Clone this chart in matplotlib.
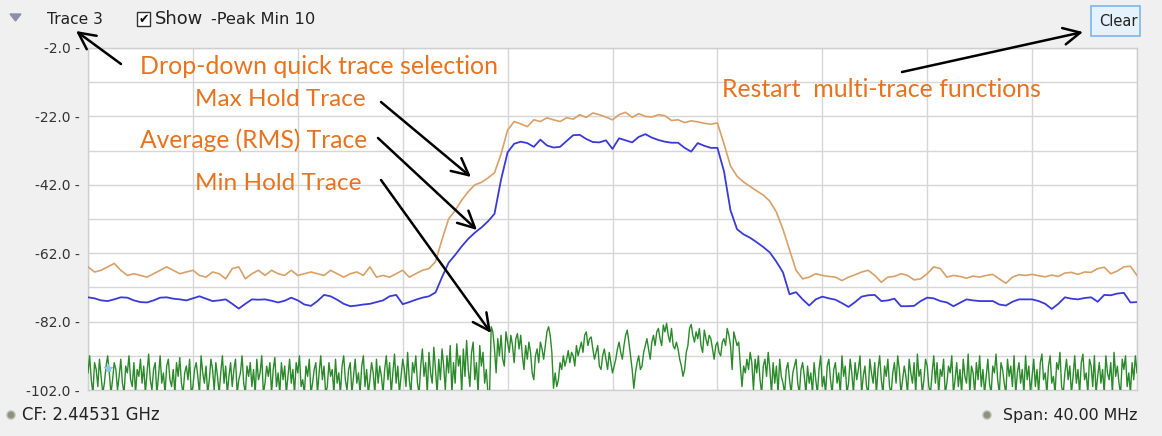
import numpy as np
import matplotlib
matplotlib.use("Agg")
import matplotlib.pyplot as plt
from matplotlib.patches import Rectangle, Ellipse, Polygon

# ---------------- data ----------------
cf_ghz = 2.44531
span_mhz = 40.0
y_min, y_max = -102.0, -2.0
y_label_ticks = [-102.0, -82.0, -62.0, -42.0, -22.0, -2.0]
y_grid_minor = [-92.0, -72.0, -52.0, -32.0, -12.0]

# Max hold trace (dBm), evenly spaced across the span
max_hold = [
    -66.0, -67.5, -67.0, -66.0, -65.0, -67.0, -68.5, -68.0, -68.5, -69.0,
    -68.0, -67.0, -66.0, -67.0, -68.0, -67.5, -67.0, -68.5, -69.0, -67.5,
    -68.0, -69.5, -66.5, -66.0, -69.5, -68.0, -67.0, -68.5, -67.0, -68.0,
    -68.5, -67.0, -68.5, -68.0, -67.5, -68.0, -68.5, -67.0, -68.0, -69.0,
    -68.0, -67.5, -68.5, -66.0, -69.0, -68.5, -69.0, -68.0, -67.0, -69.0,
    -68.0, -67.0, -66.5, -64.5, -58.0, -52.0, -49.5, -46.5, -44.0, -42.0,
    -41.3, -40.0, -38.5, -33.0, -26.0, -23.5, -24.2, -25.0, -23.0, -23.5,
    -22.4, -23.0, -23.5, -22.4, -22.8, -21.5, -22.3, -21.0, -21.5, -22.2,
    -23.0, -21.5, -20.8, -22.3, -21.2, -22.0, -22.2, -21.5, -21.8, -23.2,
    -23.0, -23.8, -23.3, -23.6, -24.0, -24.3, -23.9, -30.0, -36.5, -39.5,
    -41.2, -42.5, -43.8, -45.0, -46.8, -50.0, -55.0, -61.0, -67.0, -69.5,
    -69.0, -68.0, -68.5, -68.8, -69.0, -70.0, -69.0, -68.3, -67.5, -67.0,
    -68.5, -70.5, -69.0, -68.8, -68.0, -68.5, -69.8, -69.5, -68.0, -66.0,
    -66.5, -69.0, -68.5, -68.8, -69.3, -68.7, -69.0, -68.5, -68.2, -69.5,
    -70.8, -69.0, -68.3, -68.5, -68.2, -68.6, -68.9, -68.4, -68.8, -67.8,
    -67.6, -68.2, -67.5, -67.6, -66.5, -66.1, -68.0, -67.2, -66.0, -65.8,
    -68.5,
]

# Average (RMS) trace (dBm)
avg_rms = [
    -74.9, -75.2, -75.8, -76.0, -75.5, -74.9, -75.0, -75.8, -76.3, -76.4,
    -75.8, -75.0, -74.9, -75.3, -75.5, -75.8, -75.2, -74.6, -75.3, -76.0,
    -75.8, -75.5, -76.8, -78.2, -76.8, -75.5, -75.6, -75.5, -75.9, -76.4,
    -75.9, -75.0, -75.8, -77.0, -77.4, -76.0, -74.2, -74.6, -75.6, -76.8,
    -77.5, -77.3, -77.0, -76.8, -76.3, -75.8, -74.6, -74.2, -76.9, -76.3,
    -75.6, -75.0, -74.6, -73.5, -69.0, -64.8, -62.5, -60.0, -57.8, -56.0,
    -54.5, -52.7, -50.5, -40.5, -32.5, -30.0, -29.4, -29.8, -30.9, -28.8,
    -30.5, -31.1, -30.9, -29.2, -27.5, -27.4, -28.6, -29.5, -29.6, -29.0,
    -31.5, -28.4, -29.0, -29.6, -28.0, -27.2, -28.2, -28.9, -29.4, -29.7,
    -29.7, -31.2, -32.3, -29.8, -30.6, -31.2, -31.2, -38.0, -49.5, -55.0,
    -56.5, -57.5, -58.8, -60.2, -61.8, -64.5, -67.6, -74.0, -73.4, -75.5,
    -77.3, -75.5, -74.7, -75.2, -75.6, -76.6, -77.7, -76.3, -74.7, -74.3,
    -74.2, -76.0, -75.8, -75.3, -77.5, -77.5, -77.4, -76.0, -75.0, -75.2,
    -76.0, -76.4, -77.5, -76.5, -75.5, -75.8, -76.0, -76.0, -76.0, -77.0,
    -77.3, -76.2, -75.5, -75.5, -75.5, -76.0, -76.8, -78.3, -76.8, -74.9,
    -75.3, -75.5, -75.1, -74.9, -76.2, -74.2, -74.3, -73.8, -73.6, -76.4,
    -76.3,
]

# Min hold trace (dBm)
min_hold = [
    -97, -92, -99, -103, -94, -96, -101, -93, -98, -103, -100, -95, -92, -97, -103, -99, -94, -96, -102, -98,
    -93, -100, -103, -95, -97, -92, -99, -101, -94, -103, -96, -98, -93, -100, -95, -103, -97, -91.5, -99, -102,
    -96, -94, -103, -98, -92, -100, -97, -103, -95, -93, -99, -101, -96, -103, -94, -98, -92.5, -100, -103, -97,
    -95, -99, -93, -103, -101, -96, -94, -98, -103, -92, -97, -100, -95, -103, -99, -93, -96, -102, -94, -98,
    -103, -97, -92, -100, -95, -103, -98, -94, -101, -96, -93, -103, -99, -97, -92, -100, -103, -95, -98, -94,
    -101, -96, -103, -93, -99, -97, -92, -103, -100, -95, -98, -94, -103, -96, -92.5, -101, -97, -103, -94, -99,
    -95, -103, -98, -93, -100, -96, -103, -94, -97, -92, -101, -99, -103, -95, -98, -93, -103, -100, -96, -94,
    -103, -97, -92, -99, -95, -103, -101, -94, -98, -96, -103, -93, -100, -97, -103, -95, -92, -99, -102, -96,
    -94, -103, -98, -93, -100, -97, -103, -95, -92, -101, -96, -103, -99, -94, -97, -103, -93, -100, -95, -98,
    -103, -96, -92, -99, -94, -103, -97, -91.5, -100, -95, -103, -98, -93, -96, -101, -91, -99, -103, -94, -97,
    -92, -100, -103, -95, -90, -98, -94, -103, -91, -97, -100, -89.5, -96, -103, -93, -99, -90, -95, -102, -92,
    -97, -89, -103, -94, -100, -88.5, -95, -92, -103, -90, -98, -87.5, -96, -101, -91, -88, -99, -94, -103, -89,
    -95, -91, -100, -96, -103, -103, -83.5, -85, -90, -97, -87, -92, -86, -93, -95, -85, -88, -91, -86, -89,
    -94, -87, -85.5, -90, -86, -92, -96, -89, -93, -88, -91, -97, -99, -92, -90, -94, -88, -90, -93, -89,
    -85, -83.5, -86, -91, -101.5, -97, -101, -99, -94, -96, -92, -95, -93, -90.5, -94, -91, -92, -95, -89, -92,
    -90, -88, -91, -86, -85, -89, -87, -86.5, -90, -93, -91, -89, -95, -96, -92, -90, -93, -96, -91, -94,
    -97, -95, -93, -90, -88, -91, -93, -89, -86, -84.5, -88, -92, -96, -101.5, -97, -94, -92, -96, -95, -91,
    -89, -87, -90, -93, -88, -86, -89, -85, -84, -87, -89, -83, -85, -82.5, -86, -88, -84, -89, -90, -88,
    -90, -93, -95, -98, -96, -91, -89, -84, -82.8, -86, -88, -85, -87, -84, -89, -91, -84.5, -87, -89, -86,
    -87, -90, -93, -89, -88, -91, -92, -88, -87, -89, -84, -86, -89, -96, -85, -87, -89, -88, -95, -101,
    -95, -97, -93, -96, -91, -94, -102, -93, -97, -92, -99, -103, -95, -93, -98, -91, -96, -103, -94, -100,
    -95, -103, -93, -98, -100, -103, -96, -94, -99, -103, -97, -95, -93, -100, -103, -96, -94, -98, -103, -95,
    -100, -97, -103, -94, -99, -103, -96, -92, -101, -98, -103, -95, -93, -99, -103, -96, -94, -100, -97, -103,
    -92, -98, -95, -103, -100, -93, -97, -103, -94, -99, -96, -92, -103, -98, -95, -101, -103, -93, -97, -100,
    -94, -103, -96, -92, -99, -103, -95, -98, -93, -101, -103, -97, -94, -100, -92, -96, -103, -99, -95, -98,
    -103, -93, -97, -100, -94, -103, -91.5, -98, -96, -103, -99, -93, -95, -101, -103, -97, -92, -100, -94, -103,
    -96, -98, -93, -103, -100, -95, -97, -92, -103, -99, -94, -101, -96, -103, -93, -98, -100, -91.5, -103, -95,
    -97, -103, -94, -99, -92, -101, -96, -103, -98, -93, -100, -103, -95, -97, -91.5, -99, -103, -94, -96, -100,
    -103, -93, -98, -95, -101, -92, -103, -97, -94, -100, -96, -103, -92, -99, -95, -103, -98, -93, -101, -96,
    -103, -94, -91.5, -99, -97, -103, -95, -92, -100, -98, -103, -94, -96, -91, -101, -103, -97, -93, -99, -95,
    -103, -98, -92, -100, -96, -103, -94, -91.5, -99, -97, -103, -93, -95, -101, -92, -103, -98, -94, -100, -96,
    -103, -92, -97, -99, -94, -103, -91, -98, -95, -100, -103, -93, -96, -92, -101, -97, -103, -94, -99, -92,
    -97,
]

marker_mhz = [-19.25]
marker_db = [-95.5]

top_labels = ["Trace 3", "Show", "-Peak Min 10"]
cf_text = "CF: 2.44531 GHz"
span_text = "Span: 40.00 MHz"
notes = ["Drop-down quick trace selection", "Max Hold Trace",
         "Average (RMS) Trace", "Min Hold Trace", "Restart  multi-trace functions"]

# ---------------- figure ----------------
W, H = 1162, 436
fig = plt.figure(figsize=(W / 100, H / 100), dpi=100)
fig.patch.set_facecolor("#f0f0f0")

L, R, T, B = 88, 1137, 48, 390
ax = fig.add_axes([L / W, 1 - B / H, (R - L) / W, (B - T) / H])
ax.set_facecolor("white")

half = span_mhz / 2
x_max = np.linspace(-half, half, len(max_hold))
x_avg = np.linspace(-half, half, len(avg_rms))
x_min = np.linspace(-half, half, len(min_hold))

ax.plot(x_min, min_hold, color="#2a8a2a", lw=1.0, zorder=3)
ax.plot(x_max, max_hold, color="#d9a068", lw=1.2, zorder=4)
ax.plot(x_avg, avg_rms, color="#3a3ad8", lw=1.3, zorder=5)
ax.plot(marker_mhz, marker_db, marker="*", color="#8ec8e8", ms=6, ls="none", zorder=6)

ax.set_xlim(-half, half)
ax.set_ylim(y_min, y_max)
ax.set_xticks(np.linspace(-half, half, 11))
ax.set_xticklabels([])
ax.tick_params(axis="x", length=0)
ax.set_yticks(y_label_ticks)
ax.set_yticklabels([f"{v:.1f} -" for v in y_label_ticks])
ax.set_yticks(y_grid_minor, minor=True)
ax.tick_params(axis="y", which="major", length=0, labelsize=10,
               labelcolor="#333333", pad=6)
ax.tick_params(axis="y", which="minor", length=0)
ax.grid(True, which="both", color="#d6d6d6", lw=1.0, zorder=0)
ax.set_axisbelow(True)
for s in ax.spines.values():
    s.set_color("#cfcfcf")
    s.set_linewidth(1.0)

renderer = fig.canvas.get_renderer()


def fit_text(x0, x1, yc, s, color="#222222", family="DejaVu Sans"):
    t = fig.text(x0 / W, 1 - yc / H, s, va="center", ha="left", fontsize=12,
                 color=color, family=family)
    bb = t.get_window_extent(renderer=renderer)
    t.set_fontsize(12 * (x1 - x0) / bb.width)
    return t


# top bar
fig.patches.append(Polygon([[10 / W, 1 - 14 / H], [21 / W, 1 - 14 / H], [15.5 / W, 1 - 21 / H]],
                           closed=True, transform=fig.transFigure, color="#8e8ea8"))
fit_text(47, 103, 19, top_labels[0])
fig.patches.append(Rectangle((137 / W, 1 - 26 / H), 13 / W, 14 / H, transform=fig.transFigure,
                             facecolor="white", edgecolor="#333333", lw=1.0))
fig.text(143.5 / W, 1 - 19 / H, "\u2714", ha="center", va="center", fontsize=9, color="#111111")
fit_text(155, 203, 19, top_labels[1])
fit_text(211, 315, 19, top_labels[2])
fig.patches.append(Rectangle((1091 / W, 1 - 36 / H), 49 / W, 30 / H, transform=fig.transFigure,
                             facecolor="#e5f1fb", edgecolor="#7eb4ea", lw=1.2))
fit_text(1099, 1137, 21, "Clear")

# bottom bar
for cx in (11, 987):
    fig.patches.append(Ellipse((cx / W, 1 - 415 / H), 8 / W, 8 / H, transform=fig.transFigure,
                               facecolor="#8c9470", edgecolor="#b8b8c8", lw=1.0))
fit_text(22, 160, 415, cf_text)
fit_text(1003, 1137, 415, span_text)

# annotations
orange = "#e8731f"
fit_text(140, 498, 66, notes[0], color=orange, family="Lato")
fit_text(195, 365, 100, notes[1], color=orange, family="Lato")
fit_text(140, 367, 140, notes[2], color=orange, family="Lato")
fit_text(195, 361, 183, notes[3], color=orange, family="Lato")
fit_text(722, 1040, 89, notes[4], color=orange, family="Lato")

arrows = [((121, 64), (76, 31)), ((381, 102), (471, 177)), ((378, 138), (477, 230)),
          ((381, 180), (491, 333)), ((902, 72), (1083, 32))]
for (tx, ty), (hx, hy) in arrows:
    ax.annotate("", xy=(hx, H - hy), xycoords="figure pixels",
                xytext=(tx, H - ty), textcoords="figure pixels",
                arrowprops=dict(arrowstyle="->", lw=1.8, color="black", mutation_scale=30,
                                shrinkA=0, shrinkB=0),
                annotation_clip=False, zorder=10)

fig.savefig("out.png", dpi=100, facecolor=fig.get_facecolor())
